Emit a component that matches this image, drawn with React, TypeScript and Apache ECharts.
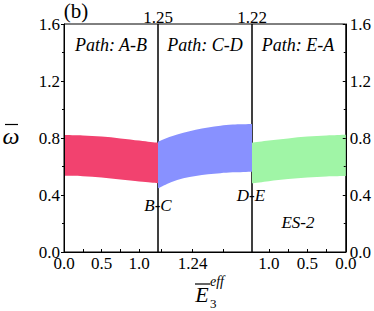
import React, { useEffect, useRef } from "react";
import * as echarts from "echarts";

// Segment 1: Path A-B, x = E3eff from 0 to 1.25
const abX = [0, 0.25, 0.5, 0.75, 1.0, 1.15, 1.25];
const abUpper = [0.821, 0.818, 0.81, 0.797, 0.782, 0.772, 0.767];
const abLower = [0.535, 0.532, 0.522, 0.508, 0.494, 0.487, 0.482];

// Segment 2: Path C-D, x = E3eff from 1.2456 down to 1.2304
const cdX = [1.2456, 1.2435, 1.2415, 1.2395, 1.2375, 1.2355, 1.2335, 1.2304];
const cdUpper = [0.774, 0.81, 0.837, 0.858, 0.874, 0.886, 0.894, 0.898];
const cdLower = [0.447, 0.49, 0.517, 0.533, 0.545, 0.553, 0.559, 0.564];

// Segment 3: Path E-A, x = E3eff from 1.22 down to 0
const eaX = [1.22, 1.0, 0.75, 0.5, 0.25, 0];
const eaUpper = [0.767, 0.782, 0.797, 0.81, 0.818, 0.823];
const eaLower = [0.482, 0.497, 0.512, 0.522, 0.53, 0.533];

const yTicks = [0, 0.4, 0.8, 1.2, 1.6];
const seg1TickValues = [0.25, 0.5, 0.75, 1.0];
const seg1LabelValues = [0, 0.5, 1.0];
const seg2TickValues = [1.235, 1.24, 1.245];
const seg2LabelValues = [1.24];
const seg3TickValues = [0.25, 0.5, 0.75, 1.0];
const seg3LabelValues = [0, 0.5, 1.0];

const pathLabels = ["Path: A-B", "Path: C-D", "Path: E-A"];
const topLabels = ["1.25", "1.22"];

const FONT = '"Liberation Serif", "Times New Roman", serif';

type P = number[];

function curvePath(pts: P[]): string {
  // Catmull-Rom to cubic bezier through the points (excluding initial move)
  let d = "";
  const n = pts.length;
  for (let i = 0; i < n - 1; i++) {
    const p0 = pts[Math.max(0, i - 1)];
    const p1 = pts[i];
    const p2 = pts[i + 1];
    const p3 = pts[Math.min(n - 1, i + 2)];
    const c1x = p1[0] + (p2[0] - p0[0]) / 6;
    const c1y = p1[1] + (p2[1] - p0[1]) / 6;
    const c2x = p2[0] - (p3[0] - p1[0]) / 6;
    const c2y = p2[1] - (p3[1] - p1[1]) / 6;
    d += ` C ${c1x} ${c1y} ${c2x} ${c2y} ${p2[0]} ${p2[1]}`;
  }
  return d;
}

function band(
  x: number[],
  lower: number[],
  upper: number[],
  idx: number,
  color: string
) {
  return {
    type: "custom",
    xAxisIndex: idx,
    yAxisIndex: idx,
    silent: true,
    data: [[x[0], lower[0]]],
    renderItem: (_params: any, api: any) => {
      const up = x.map((v, i) => api.coord([v, upper[i]]));
      const lo = x.map((v, i) => api.coord([v, lower[i]])).reverse();
      const d =
        `M ${up[0][0]} ${up[0][1]}` +
        curvePath(up) +
        ` L ${lo[0][0]} ${lo[0][1]}` +
        curvePath(lo) +
        " Z";
      return {
        type: "path",
        shape: { pathData: d },
        style: { fill: color, stroke: "none" },
      };
    },
  };
}

export default function App() {
  const ref = useRef<HTMLDivElement>(null);
  useEffect(() => {
    if (!ref.current) return;
    const chart = echarts.init(ref.current, undefined, { renderer: "svg" });
    const gridBase = {
      top: 24,
      height: 228,
      width: 94,
      show: true,
      borderColor: "#000",
      borderWidth: 1,
      containLabel: false,
    };
    const labelStyle = { color: "#000", fontFamily: FONT, fontSize: 17 };
    const xAxisCommon = {
      type: "value",
      z: 5,
      axisLine: { show: true, lineStyle: { color: "#000", width: 1 } },
      splitLine: { show: false },
      axisTick: { show: true, inside: true, length: 3, lineStyle: { color: "#000" } },
    };
    const yAxisCommon = {
      type: "value",
      min: 0,
      max: 1.6,
      interval: 0.4,
      z: 5,
      splitLine: { show: false },
      axisLine: { show: true, lineStyle: { color: "#000", width: 1 } },
      minorTick: { show: true, splitNumber: 2, length: 2, lineStyle: { color: "#000" } },
    };
    const option: any = {
      animation: false,
      backgroundColor: "#fff",
      grid: [
        { ...gridBase, left: 64 },
        { ...gridBase, left: 158 },
        { ...gridBase, left: 252 },
      ],
      xAxis: [
        {
          ...xAxisCommon,
          gridIndex: 0,
          min: 0,
          max: 1.25,
          axisTick: { ...xAxisCommon.axisTick, customValues: seg1TickValues },
          axisLabel: {
            ...labelStyle,
            margin: 3,
            customValues: seg1LabelValues,
            formatter: (v: number) => v.toFixed(1),
          },
        },
        {
          ...xAxisCommon,
          gridIndex: 1,
          min: 1.2304,
          max: 1.2456,
          inverse: true,
          axisTick: { ...xAxisCommon.axisTick, customValues: seg2TickValues },
          axisLabel: {
            ...labelStyle,
            margin: 3,
            customValues: seg2LabelValues,
            formatter: (v: number) => v.toFixed(2),
          },
        },
        {
          ...xAxisCommon,
          gridIndex: 2,
          min: 0,
          max: 1.22,
          inverse: true,
          axisTick: { ...xAxisCommon.axisTick, customValues: seg3TickValues },
          axisLabel: {
            ...labelStyle,
            margin: 3,
            customValues: seg3LabelValues,
            formatter: (v: number) => v.toFixed(1),
          },
        },
      ],
      yAxis: [
        {
          ...yAxisCommon,
          gridIndex: 0,
          position: "left",
          axisTick: { show: true, inside: false, length: 3, lineStyle: { color: "#000" } },
          axisLabel: {
            ...labelStyle,
            margin: 4,
            customValues: yTicks,
            formatter: (v: number) => v.toFixed(1),
          },
        },
        { ...yAxisCommon, gridIndex: 1, show: false },
        {
          ...yAxisCommon,
          gridIndex: 2,
          position: "right",
          axisTick: { show: true, inside: true, length: 3, lineStyle: { color: "#000" } },
          axisLabel: {
            ...labelStyle,
            margin: 4,
            customValues: yTicks,
            formatter: (v: number) => v.toFixed(1),
          },
        },
      ],
      series: [
        band(abX, abLower, abUpper, 0, "#F2426F"),
        band(cdX, cdLower, cdUpper, 1, "#8891FF"),
        band(eaX, eaLower, eaUpper, 2, "#A0F5A6"),
      ],
      graphic: [
        {
          type: "text",
          x: 76,
          y: 11,
          style: { text: "(b)", font: `21px ${FONT}`, fill: "#000", textAlign: "center", textVerticalAlign: "middle" },
        },
        {
          type: "text",
          x: 158,
          y: 17,
          style: { text: topLabels[0], font: `17px ${FONT}`, fill: "#000", textAlign: "center", textVerticalAlign: "middle" },
        },
        {
          type: "text",
          x: 252,
          y: 17,
          style: { text: topLabels[1], font: `17px ${FONT}`, fill: "#000", textAlign: "center", textVerticalAlign: "middle" },
        },
        ...pathLabels.map((t, i) => ({
          type: "text",
          x: [111, 205, 298][i],
          y: 45,
          style: { text: t, font: `italic 18px ${FONT}`, fill: "#000", textAlign: "center", textVerticalAlign: "middle" },
        })),
        {
          type: "text",
          x: 158,
          y: 205,
          style: { text: "B-C", font: `italic 17px ${FONT}`, fill: "#000", textAlign: "center", textVerticalAlign: "middle" },
        },
        {
          type: "text",
          x: 251,
          y: 195,
          style: { text: "D-E", font: `italic 17px ${FONT}`, fill: "#000", textAlign: "center", textVerticalAlign: "middle" },
        },
        {
          type: "text",
          x: 298,
          y: 222,
          style: { text: "ES-2", font: `italic 17px ${FONT}`, fill: "#000", textAlign: "center", textVerticalAlign: "middle" },
        },
        {
          type: "text",
          x: 11,
          y: 136,
          style: { text: "\u03C9", font: `italic 24px ${FONT}`, fill: "#000", textAlign: "center", textVerticalAlign: "middle" },
        },
        {
          type: "line",
          shape: { x1: 5, y1: 124.5, x2: 18, y2: 124.5 },
          style: { stroke: "#000", lineWidth: 1.2 },
        },
        {
          type: "text",
          x: 202,
          y: 294,
          style: { text: "E", font: `italic 22px ${FONT}`, fill: "#000", textAlign: "center", textVerticalAlign: "middle" },
        },
        {
          type: "line",
          shape: { x1: 195, y1: 284, x2: 210, y2: 284 },
          style: { stroke: "#000", lineWidth: 1.2 },
        },
        {
          type: "text",
          x: 210,
          y: 281,
          style: { text: "eff", font: `italic 14px ${FONT}`, fill: "#000", textAlign: "left", textVerticalAlign: "middle" },
        },
        {
          type: "text",
          x: 210,
          y: 303,
          style: { text: "3", font: `13px ${FONT}`, fill: "#000", textAlign: "left", textVerticalAlign: "middle" },
        },
      ],
    };
    chart.setOption(option);
    return () => chart.dispose();
  }, []);
  return (
    <div
      ref={ref}
      style={{ position: "fixed", left: 0, top: 0, width: 374, height: 311 }}
    />
  );
}
